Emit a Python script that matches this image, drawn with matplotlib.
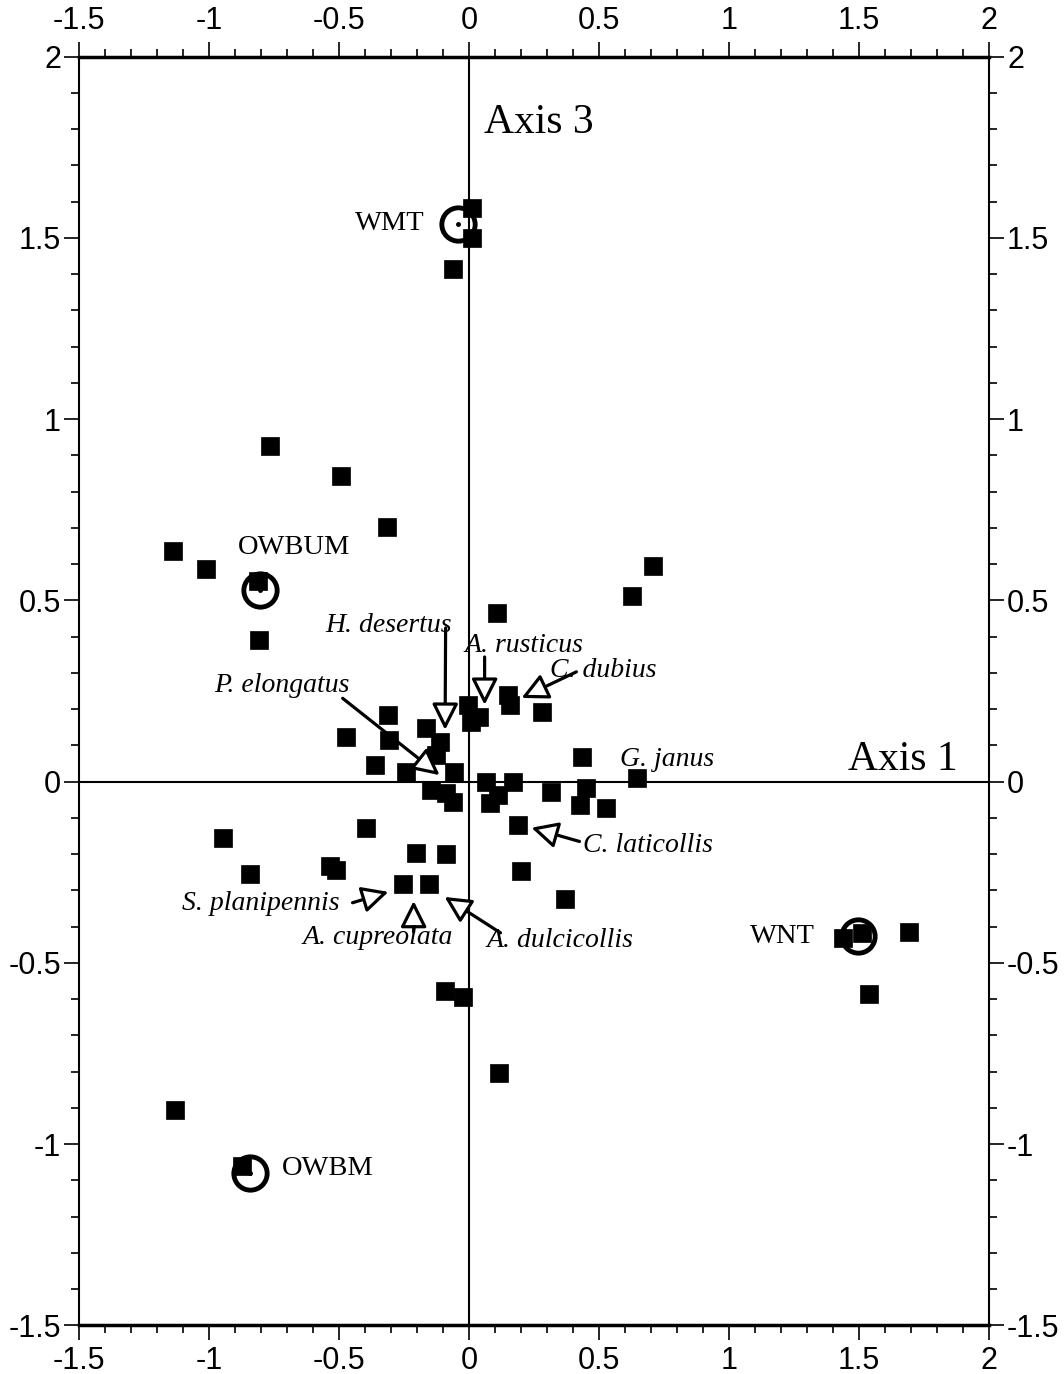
import matplotlib
matplotlib.use("Agg")
import matplotlib.pyplot as plt
from matplotlib.ticker import MultipleLocator, FormatStrFormatter

plt.rcParams["axes.unicode_minus"] = False

# ── Ordination scores: sample plots (filled squares) ─────────────────────────
plot_x = [0.01, 0.013, -0.063, -0.767, -0.494, -0.317, -1.140, -1.013, -0.812,
          -0.806, 0.625, 0.706, 0.106, -0.313, -0.475, -0.306, -0.36, -0.244,
          -0.165, -0.113, -0.126, -0.056, -0.005, 0.008, 0.04, 0.149, 0.156,
          0.282, -0.145, -0.088, -0.062, 0.066, 0.168, 0.079, 0.111, 0.316,
          0.187, 0.435, 0.448, 0.425, 0.525, 0.645, -0.948, -0.844, -0.533,
          -0.513, -0.398, -0.202, -0.09, -0.252, -0.152, 0.198, 0.371, -0.094,
          -0.025, 0.117, -1.129, -0.875, 1.437, 1.51, 1.694, 1.537]
plot_y = [1.583, 1.500, 1.414, 0.926, 0.843, 0.703, 0.637, 0.587, 0.554,
          0.391, 0.512, 0.595, 0.465, 0.184, 0.124, 0.115, 0.046, 0.026,
          0.147, 0.110, 0.074, 0.028, 0.212, 0.166, 0.179, 0.239, 0.212,
          0.191, -0.023, -0.032, -0.055, 0.0, 0.0, -0.060, -0.037, -0.028,
          -0.12, 0.067, -0.018, -0.064, -0.073, 0.009, -0.155, -0.254, -0.232,
          -0.243, -0.128, -0.197, -0.199, -0.282, -0.282, -0.247, -0.323, -0.577,
          -0.594, -0.804, -0.906, -1.06, -0.432, -0.418, -0.415, -0.586]

# ── Site centroids (open circles) ────────────────────────────────────────────
sites   = ["WMT", "OWBUM", "WNT", "OWBM"]
site_x  = [-0.043, -0.803, 1.497, -0.844]
site_y  = [1.538, 0.529, -0.425, -1.079]
# label anchor and alignment for each site
site_lx = [-0.171, -0.89, 1.329, -0.721]
site_ly = [1.541, 0.645, -0.426, -1.066]
site_ha = ["right", "left", "right", "left"]

# ── Indicator species: label, label position, arrow tail and tip ─────────────
species = ["H. desertus", "A. rusticus", "C. dubius", "P. elongatus",
           "G. janus", "C. laticollis", "S. planipennis", "A. cupreolata",
           "A. dulcicollis"]
sp_lx = [-0.31, -0.017, 0.31, -0.979, 0.579, 0.437, -0.498, -0.352, 0.067]
sp_ly = [0.43, 0.377, 0.308, 0.264, 0.06, -0.177, -0.335, -0.431, -0.437]
sp_ha = ["center", "left", "left", "left", "left", "left", "right", "center", "left"]
tail_x = [-0.09, 0.06, 0.413, -0.486, None, 0.425, -0.448, -0.213, 0.121]
tail_y = [0.424, 0.344, 0.303, 0.23, None, -0.165, -0.334, -0.415, -0.417]
tip_x  = [-0.092, 0.06, 0.202, -0.113, None, 0.24, -0.31, -0.213, -0.094]
tip_y  = [0.143, 0.212, 0.231, 0.018, None, -0.127, -0.304, -0.329, -0.318]

SERIF = ["Liberation Serif", "DejaVu Serif"]
SANS  = ["Liberation Sans Narrow", "Liberation Sans", "DejaVu Sans"]

fig = plt.figure(figsize=(10.64, 13.74), dpi=100)
ax = fig.add_axes([0.07425, 0.03537, 0.8553, 0.92336])
ax.set_xlim(-1.5, 2)
ax.set_ylim(-1.5, 2)

# zero axes
ax.axhline(0, color="black", lw=1.5, zorder=1)
ax.axvline(0, color="black", lw=1.5, zorder=1)

# site circles under the plot squares
ax.plot(site_x, site_y, "o", ms=24, mfc="none", mec="black", mew=3.5, zorder=2)
ax.plot(site_x, site_y, "o", ms=2.5, color="black", zorder=4)
ax.plot(plot_x, plot_y, "s", ms=13.5, color="black", mec="black", mew=0.5, zorder=3)

for name, lx, ly, ha in zip(sites, site_lx, site_ly, site_ha):
    ax.text(lx, ly, name, ha=ha, va="center", fontsize=20.5, family=SERIF)

for name, lx, ly, ha, tx, ty, px, py in zip(species, sp_lx, sp_ly, sp_ha,
                                             tail_x, tail_y, tip_x, tip_y):
    ax.text(lx, ly, name, ha=ha, va="center", fontsize=20, family=SERIF,
            style="italic", zorder=6)
    if tx is None:
        continue
    ax.annotate("", xy=(px, py), xytext=(tx, ty), zorder=5,
                arrowprops=dict(arrowstyle="-|>,head_length=1.0,head_width=0.5",
                                mutation_scale=16, fc="white", ec="black",
                                lw=2.3, shrinkA=0, shrinkB=0))

ax.text(0.056, 1.817, "Axis 3", ha="left", va="center", fontsize=30, family=SERIF)
ax.text(1.456, 0.06, "Axis 1", ha="left", va="center", fontsize=30, family=SERIF)

# ticks and labels on all four sides
for axis in (ax.xaxis, ax.yaxis):
    axis.set_major_locator(MultipleLocator(0.5))
    axis.set_minor_locator(MultipleLocator(0.1))
    axis.set_major_formatter(FormatStrFormatter("%g"))
ax.tick_params(which="both", direction="out", top=True, right=True,
               labeltop=True, labelright=True, width=1.2, color="black")
ax.tick_params(which="major", length=11, labelsize=22, pad=2)
ax.tick_params(which="minor", length=6)
ax.tick_params(axis="x", which="major", pad=4)
for lbl in ax.get_xticklabels() + ax.get_yticklabels():
    lbl.set_family(SANS)

for side in ("left", "right"):
    ax.spines[side].set_linewidth(1.5)
for side in ("top", "bottom"):
    ax.spines[side].set_linewidth(2.5)

fig.savefig("out.png", dpi=100)
